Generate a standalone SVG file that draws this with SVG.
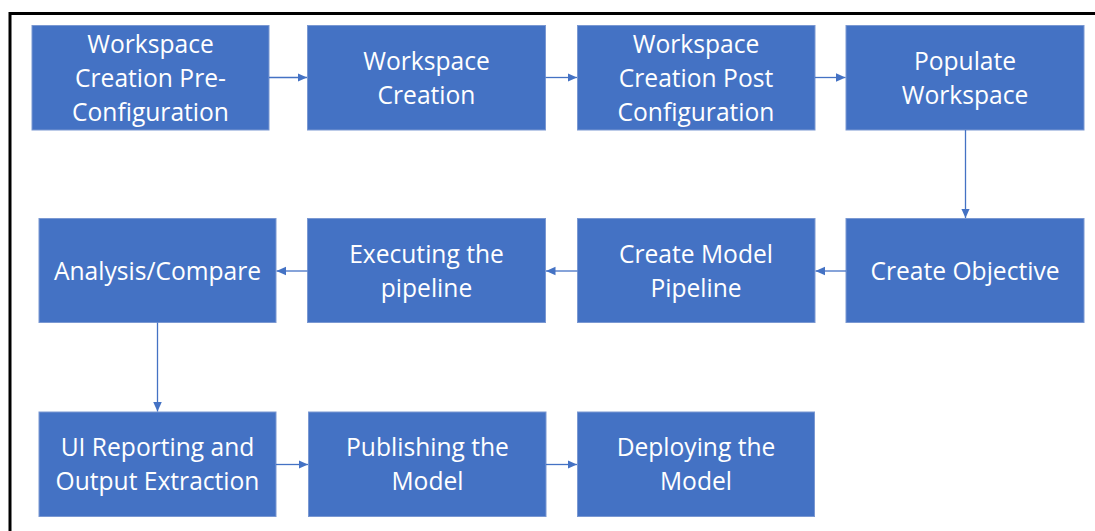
<svg xmlns="http://www.w3.org/2000/svg" width="1095" height="531" viewBox="0 0 1095 531">
  <style>
    .box { fill: #4472C4; stroke: #7A98D2; stroke-width: 1; }
    .lbl { font-family: "Open Sans", "Noto Sans", "Liberation Sans", sans-serif; font-size: 24.6px; fill: #FFFFFF; text-anchor: middle; }
    .conn { stroke: #4472C4; stroke-width: 1.3; fill: none; marker-end: url(#arrow); }
    .frame { stroke: #000000; stroke-width: 3; fill: none; }
  </style>
  <defs>
    <marker id="arrow" viewBox="0 0 10 10" refX="10" refY="5" markerWidth="9.5" markerHeight="9.5" markerUnits="userSpaceOnUse" orient="auto">
      <path d="M0,0.5 L10,5 L0,9.5 Z" fill="#4472C4"/>
    </marker>
  </defs>
  <rect width="1095" height="531" fill="#FFFFFF"/>
  <path class="frame" d="M10,531 L10,13.5 L1095,13.5"/>

  <g id="n1"><rect class="box" x="32" y="25.5" width="237" height="104.5"/>
    <text class="lbl" x="150.5" y="53">Workspace</text><text class="lbl" x="150.5" y="87">Creation Pre-</text><text class="lbl" x="150.5" y="121">Configuration</text></g>
  <g id="n2"><rect class="box" x="307.5" y="25.5" width="238" height="104.5"/>
    <text class="lbl" x="426.5" y="70">Workspace</text><text class="lbl" x="426.5" y="104">Creation</text></g>
  <g id="n3"><rect class="box" x="577.5" y="25.5" width="237.5" height="104.5"/>
    <text class="lbl" x="696" y="53">Workspace</text><text class="lbl" x="696" y="87">Creation Post</text><text class="lbl" x="696" y="121">Configuration</text></g>
  <g id="n4"><rect class="box" x="846" y="25.5" width="238" height="104.5"/>
    <text class="lbl" x="965" y="70">Populate</text><text class="lbl" x="965" y="104">Workspace</text></g>

  <g id="n5"><rect class="box" x="846" y="218.5" width="238" height="104"/>
    <text class="lbl" x="965" y="279.5">Create Objective</text></g>
  <g id="n6"><rect class="box" x="577.5" y="218.5" width="237.5" height="104"/>
    <text class="lbl" x="696" y="263">Create Model</text><text class="lbl" x="696" y="297">Pipeline</text></g>
  <g id="n7"><rect class="box" x="307.5" y="218.5" width="238" height="104"/>
    <text class="lbl" x="426.5" y="263">Executing the</text><text class="lbl" x="426.5" y="297">pipeline</text></g>
  <g id="n8"><rect class="box" x="39" y="218.5" width="237" height="104"/>
    <text class="lbl" x="157.5" y="279.5">Analysis/Compare</text></g>

  <g id="n9"><rect class="box" x="39" y="412" width="237" height="104.5"/>
    <text class="lbl" x="157.5" y="456">UI Reporting and</text><text class="lbl" x="157.5" y="490">Output Extraction</text></g>
  <g id="n10"><rect class="box" x="308.5" y="412" width="237.5" height="104.5"/>
    <text class="lbl" x="427.5" y="456">Publishing the</text><text class="lbl" x="427.5" y="490">Model</text></g>
  <g id="n11"><rect class="box" x="577.5" y="412" width="237" height="104.5"/>
    <text class="lbl" x="696" y="456">Deploying the</text><text class="lbl" x="696" y="490">Model</text></g>

  <g id="connectors">
    <line class="conn" x1="269" y1="77.5" x2="307" y2="77.5"/>
    <line class="conn" x1="545.5" y1="77.5" x2="577" y2="77.5"/>
    <line class="conn" x1="815" y1="77.5" x2="845.5" y2="77.5"/>
    <line class="conn" x1="965.5" y1="130" x2="965.5" y2="218"/>
    <line class="conn" x1="846" y1="271" x2="815.5" y2="271"/>
    <line class="conn" x1="577.5" y1="271" x2="546" y2="271"/>
    <line class="conn" x1="307.5" y1="271" x2="276.5" y2="271"/>
    <line class="conn" x1="157.5" y1="322.5" x2="157.5" y2="411.5"/>
    <line class="conn" x1="276" y1="464.5" x2="308" y2="464.5"/>
    <line class="conn" x1="546" y1="464.5" x2="577" y2="464.5"/>
  </g>
</svg>
